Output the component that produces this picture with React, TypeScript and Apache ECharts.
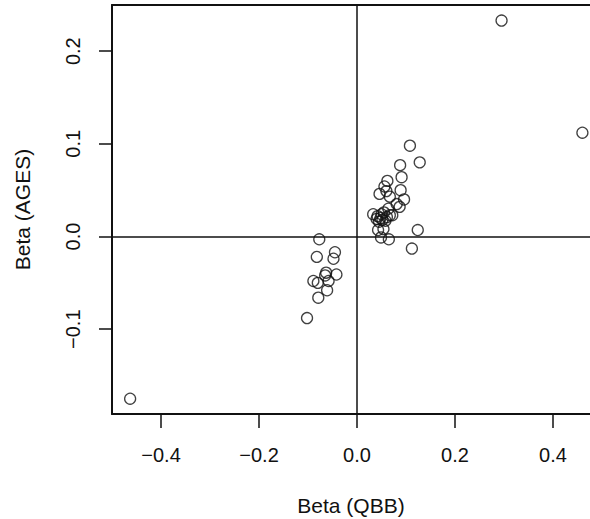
import React, { useEffect, useRef } from "react";
import * as echarts from "echarts";

const qbbBeta: number[] = [
  -0.463, 0.295, 0.46, 0.108, 0.128, 0.088, 0.091, 0.062, 0.056, 0.06, 0.046, 0.067, 0.089,
  0.096, 0.081, 0.087, 0.064, 0.072, 0.055, 0.033, 0.042, 0.048, 0.061, 0.052, 0.045, 0.058,
  0.043, 0.054, 0.049, 0.065, 0.124, 0.112, 0.067, 0.04, 0.05,
  -0.077, -0.082, -0.045, -0.048, -0.042, -0.063, -0.065, -0.058, -0.089, -0.08, -0.061,
  -0.079, -0.102,
];
const agesBeta: number[] = [
  -0.175, 0.233, 0.112, 0.098, 0.08, 0.077, 0.064, 0.06, 0.054, 0.049, 0.046, 0.043, 0.05,
  0.04, 0.035, 0.032, 0.03, 0.023, 0.026, 0.024, 0.022, 0.02, 0.021, 0.018, 0.016, 0.017,
  0.007, 0.008, -0.001, -0.003, 0.007, -0.013, 0.023, 0.019, 0.024,
  -0.003, -0.022, -0.017, -0.024, -0.041, -0.039, -0.042, -0.048, -0.048, -0.05, -0.058,
  -0.066, -0.088,
];
const xTicks: number[] = [-0.4, -0.2, 0, 0.2, 0.4];
const yTicks: number[] = [-0.1, 0, 0.1, 0.2];
// visible part of the x range (the plot box is cropped on the right)
const xRange: [number, number] = [-0.5, 0.4755];
const yRange: [number, number] = [-0.1915, 0.2498];

const fmt = (v: number) => (v < 0 ? "\u2212" : "") + Math.abs(v).toFixed(1);
const FONT = "'Liberation Sans', Arial, sans-serif";
const BOX = { color: "#111", width: 2 };

export default function App() {
  const ref = useRef<HTMLDivElement>(null);
  useEffect(() => {
    if (!ref.current) return;
    const chart = echarts.init(ref.current, null, { renderer: "svg" });
    const points = qbbBeta.map((x, i) => [x, agesBeta[i]]);
    chart.setOption({
      animation: false,
      backgroundColor: "#fff",
      grid: {
        left: 112,
        top: 5,
        right: 0,
        height: 409,
        show: false,
        containLabel: false,
        outerBoundsMode: "none",
      },
      xAxis: [
        {
          type: "value",
          min: xRange[0],
          max: xRange[1],
          splitLine: { show: false },
          axisLine: { show: true, onZero: false, lineStyle: BOX },
          axisTick: {
            show: true,
            length: 14,
            customValues: xTicks,
            lineStyle: { color: "#111", width: 1.5 },
          },
          axisLabel: {
            customValues: xTicks,
            formatter: fmt,
            margin: 31,
            fontSize: 20,
            fontFamily: FONT,
            color: "#111",
          },
          name: "Beta (QBB)",
          nameLocation: "middle",
          nameGap: 81,
          nameTextStyle: { fontSize: 21, fontFamily: FONT, color: "#111" },
        },
        {
          type: "value",
          position: "top",
          min: xRange[0],
          max: xRange[1],
          splitLine: { show: false },
          axisLine: { show: true, onZero: false, lineStyle: BOX },
          axisTick: { show: false },
          axisLabel: { show: false },
        },
      ],
      yAxis: {
        type: "value",
        min: yRange[0],
        max: yRange[1],
        splitLine: { show: false },
        axisLine: { show: true, onZero: false, lineStyle: BOX },
        axisTick: {
          show: true,
          length: 13,
          customValues: yTicks,
          lineStyle: { color: "#111", width: 1.5 },
        },
        axisLabel: {
          customValues: yTicks,
          formatter: fmt,
          rotate: 90,
          margin: 29,
          fontSize: 20,
          fontFamily: FONT,
          color: "#111",
        },
        name: "Beta (AGES)",
        nameLocation: "middle",
        nameRotate: 90,
        nameGap: 79,
        nameTextStyle: { fontSize: 21, fontFamily: FONT, color: "#111" },
      },
      series: [
        {
          type: "scatter",
          data: points,
          symbol: "circle",
          symbolSize: 11,
          itemStyle: { color: "rgba(0,0,0,0)", borderColor: "#111", borderWidth: 1.3 },
          emphasis: { disabled: true },
          markLine: {
            silent: true,
            symbol: "none",
            label: { show: false },
            lineStyle: { color: "#111", type: "solid", width: 1.5 },
            data: [{ xAxis: 0 }, { yAxis: 0 }],
          },
        },
      ],
    });
    return () => chart.dispose();
  }, []);
  return (
    <div
      ref={ref}
      style={{ position: "fixed", left: 0, top: 0, width: 590, height: 519, background: "#fff" }}
    />
  );
}
